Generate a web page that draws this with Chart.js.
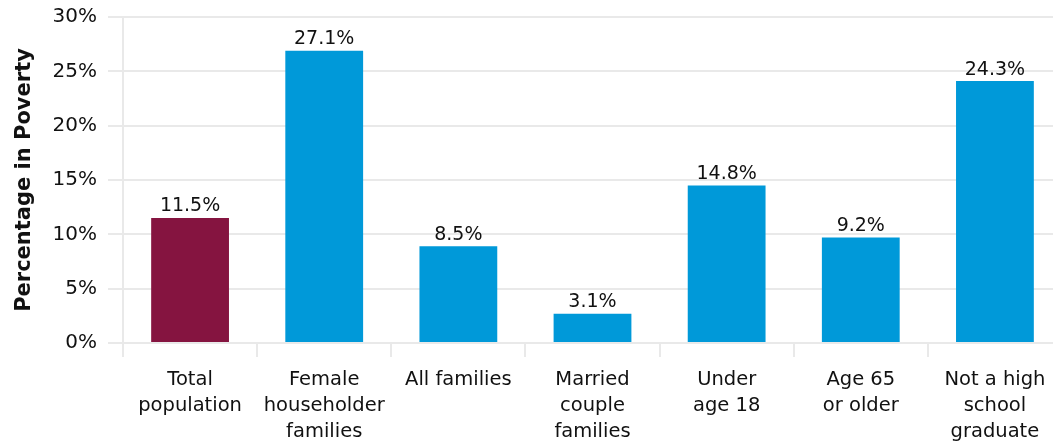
<!DOCTYPE html>
<html>
<head>
<meta charset="utf-8">
<script src="https://cdn.jsdelivr.net/npm/chart.js@4.4.1/dist/chart.umd.min.js"></script>
<style>
  html, body { margin: 0; padding: 0; background: #fff; overflow: hidden; }
  #wrap { width: 1062px; height: 442px; }
</style>
</head>
<body>
<div id="wrap"><canvas id="povertyChart" width="1062" height="442"></canvas></div>
<script>
// Categories (multi-line labels)
const categories = [
    ['Total', 'population'],
    ['Female', 'householder', 'families'],
    ['All families'],
    ['Married', 'couple', 'families'],
    ['Under', 'age 18'],
    ['Age 65', 'or older'],
    ['Not a high', 'school', 'graduate']
];

// Bar heights as drawn in the picture (percent)
const barValues = [11.5, 26.9, 8.9, 2.7, 14.5, 9.7, 24.1];

// Value labels printed above the bars
const valueLabels = ['11.5%', '27.1%', '8.5%', '3.1%', '14.8%', '9.2%', '24.3%'];

// Y axis ticks
const yTicks = [0, 5, 10, 15, 20, 25, 30];

const maroon = '#851440';
const blue = '#0099D9';
const gridColor = '#e9e9e9';
const textColor = '#111111';
const fontFamily = '"DejaVu Sans", "Noto Sans", sans-serif';

// Draw the value labels above each bar
const valueLabelPlugin = {
    id: 'valueLabels',
    afterDatasetsDraw(chart) {
        const ctx = chart.ctx;
        const meta = chart.getDatasetMeta(0);
        ctx.save();
        ctx.font = '19px ' + fontFamily;
        ctx.fillStyle = textColor;
        ctx.textAlign = 'center';
        ctx.textBaseline = 'bottom';
        meta.data.forEach((bar, i) => {
            ctx.fillText(valueLabels[i], bar.x, bar.y - 2);
        });
        ctx.restore();
    }
};

const ctx = document.getElementById('povertyChart').getContext('2d');
new Chart(ctx, {
    type: 'bar',
    data: {
        labels: categories,
        datasets: [{
            data: barValues,
            backgroundColor: barValues.map((v, i) => i === 0 ? maroon : blue),
            borderWidth: 0,
            barPercentage: 0.58,
            categoryPercentage: 1.0
        }]
    },
    options: {
        responsive: false,
        animation: false,
        layout: { padding: { top: 17, right: 0, bottom: 0, left: 0 } },
        plugins: {
            legend: { display: false },
            tooltip: { enabled: false }
        },
        scales: {
            x: {
                afterFit: (scale) => { scale.height = 99; },
                grid: {
                    drawOnChartArea: false,
                    drawTicks: true,
                    tickLength: 14,
                    color: gridColor,
                    lineWidth: 2
                },
                border: { display: true, color: gridColor, width: 2 },
                ticks: {
                    color: textColor,
                    font: { family: fontFamily, size: 19.5, lineHeight: 1.33 },
                    padding: 10,
                    maxRotation: 0,
                    autoSkip: false
                }
            },
            y: {
                min: 0,
                max: 30,
                afterFit: (scale) => {
                    scale.width = 123;
                    scale.paddingTop = 0;
                    scale.paddingBottom = 0;
                },
                afterBuildTicks: (scale) => {
                    scale.ticks = yTicks.map(v => ({ value: v }));
                },
                grid: {
                    color: gridColor,
                    lineWidth: 2,
                    tickLength: 15
                },
                border: { display: true, color: gridColor, width: 2 },
                ticks: {
                    color: textColor,
                    font: { family: fontFamily, size: 20 },
                    padding: 11,
                    callback: (v) => v + '%'
                },
                title: {
                    display: true,
                    text: 'Percentage in Poverty',
                    color: textColor,
                    font: { family: fontFamily, size: 21, weight: 'bold' },
                    padding: { top: 12, bottom: 0 }
                }
            }
        }
    },
    plugins: [valueLabelPlugin]
});
</script>
</body>
</html>
